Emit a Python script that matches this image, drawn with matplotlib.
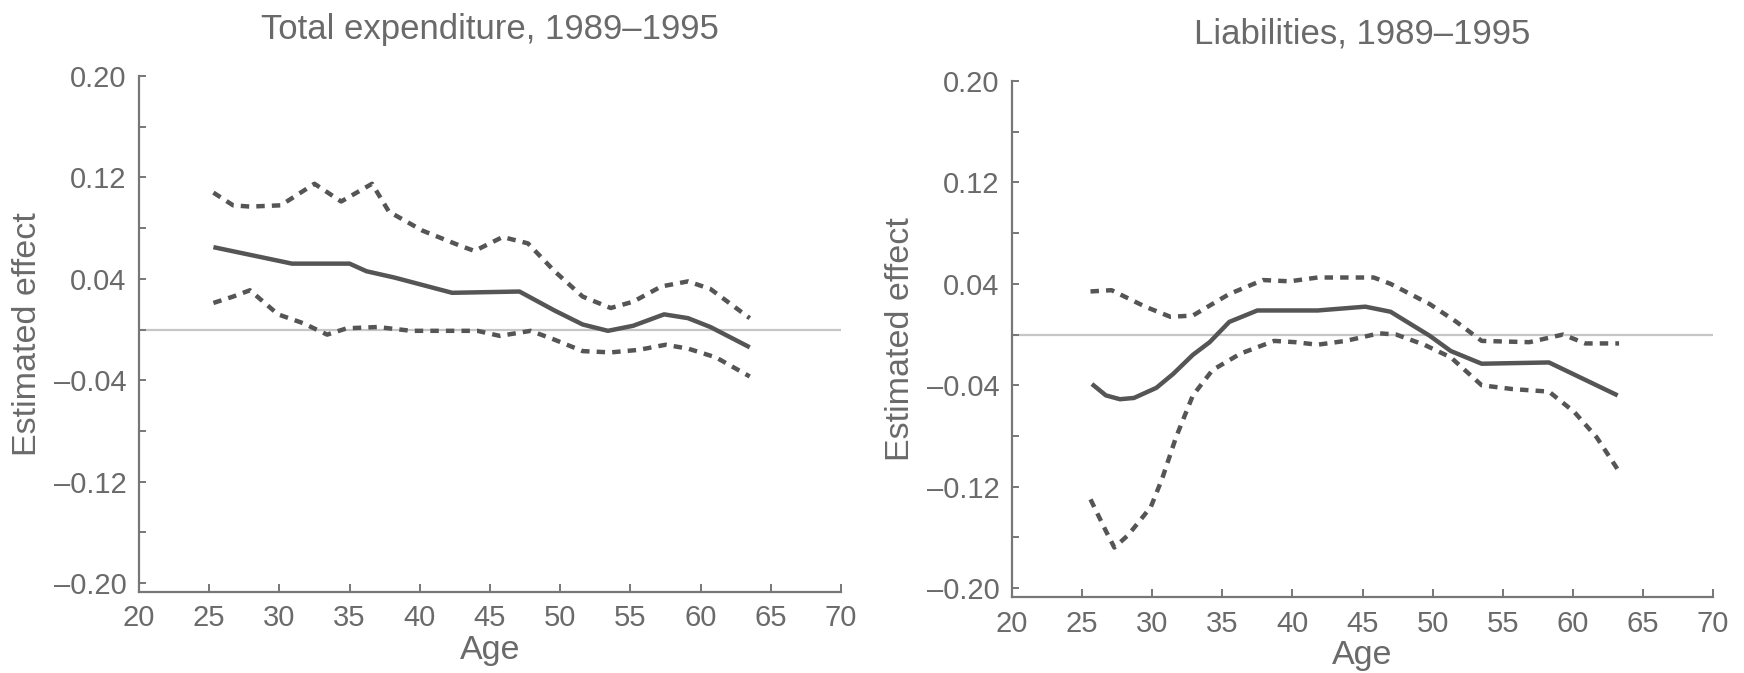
import matplotlib
matplotlib.use("Agg")
import matplotlib.pyplot as plt
import numpy as np

plt.rcParams['font.family'] = ['Liberation Sans', 'DejaVu Sans']

# ---------------- data ----------------
titles = ["Total expenditure, 1989\u20131995", "Liabilities, 1989\u20131995"]
ylabel = "Estimated effect"
xlabel = "Age"
xticks = [20, 25, 30, 35, 40, 45, 50, 55, 60, 65, 70]
yticks = [-0.20, -0.16, -0.12, -0.08, -0.04, 0.0, 0.04, 0.08, 0.12, 0.16, 0.20]
ytick_labels = ["\u20130.20", "", "\u20130.12", "", "\u20130.04", "", "0.04", "", "0.12", "", "0.20"]

# Left panel: total expenditure
exp_est_age = [25.3, 30.9, 35.0, 36.2, 38.2, 42.3, 47.1, 49.6, 51.6, 53.4, 55.2, 57.4, 59.1, 60.7, 63.5]
exp_est = [0.065, 0.052, 0.052, 0.046, 0.041, 0.029, 0.030, 0.015, 0.004, -0.001, 0.003, 0.012, 0.009, 0.002, -0.014]

exp_up_age = [25.3, 26.7, 27.9, 30.1, 32.5, 34.4, 36.6, 37.8, 40.2, 42.9, 43.9, 45.9, 47.7, 49.6, 51.6, 53.6, 55.2, 57.2, 59.1, 60.7, 63.5]
exp_up = [0.108, 0.098, 0.097, 0.098, 0.115, 0.101, 0.115, 0.093, 0.078, 0.066, 0.062, 0.073, 0.068, 0.046, 0.026, 0.017, 0.022, 0.034, 0.038, 0.032, 0.009]

exp_lo_age = [25.3, 26.7, 27.9, 29.9, 31.7, 33.4, 34.8, 37.0, 39.4, 41.7, 44.1, 45.7, 47.9, 49.6, 51.6, 53.6, 55.6, 57.5, 59.1, 61.1, 63.5]
exp_lo = [0.021, 0.026, 0.031, 0.012, 0.005, -0.004, 0.001, 0.002, -0.001, -0.001, -0.001, -0.005, -0.001, -0.008, -0.017, -0.018, -0.016, -0.012, -0.015, -0.022, -0.037]

# Right panel: liabilities
lia_est_age = [25.7, 26.7, 27.7, 28.7, 30.3, 31.5, 32.9, 34.1, 35.5, 37.5, 41.8, 45.2, 47.0, 49.8, 51.3, 53.5, 58.3, 63.2]
lia_est = [-0.039, -0.048, -0.051, -0.050, -0.042, -0.031, -0.016, -0.006, 0.010, 0.019, 0.019, 0.022, 0.018, -0.001, -0.013, -0.023, -0.022, -0.048]

lia_up_age = [25.6, 27.1, 29.5, 31.3, 32.9, 35.5, 37.9, 39.8, 41.8, 45.8, 47.0, 49.8, 51.7, 53.5, 56.9, 59.3, 60.9, 63.3]
lia_up = [0.034, 0.035, 0.022, 0.014, 0.015, 0.032, 0.043, 0.042, 0.045, 0.045, 0.040, 0.024, 0.010, -0.005, -0.006, 0.0, -0.007, -0.007]

lia_lo_age = [25.6, 26.7, 27.3, 28.3, 29.9, 30.7, 31.7, 32.9, 34.3, 36.3, 38.7, 40.2, 41.8, 43.8, 46.2, 47.4, 49.4, 51.3, 53.5, 55.7, 58.3, 60.1, 61.7, 63.3]
lia_lo = [-0.130, -0.155, -0.168, -0.158, -0.136, -0.114, -0.081, -0.048, -0.028, -0.015, -0.005, -0.006, -0.008, -0.005, 0.001, 0.0, -0.008, -0.018, -0.040, -0.043, -0.045, -0.061, -0.081, -0.108]

# ---------------- style ----------------
W, H = 1744, 673
fig = plt.figure(figsize=(W / 100, H / 100), dpi=100)
fig.patch.set_facecolor("white")

text_c = "#6a6a6a"
line_c = "#555555"
spine_c = "#777777"
zero_c = "#c6c6c6"

axes_px = [(139, 841, 76, 592), (1012, 1713, 81, 597)]
panels = [
    (exp_est_age, exp_est, exp_up_age, exp_up, exp_lo_age, exp_lo),
    (lia_est_age, lia_est, lia_up_age, lia_up, lia_lo_age, lia_lo),
]

for i, (px, data) in enumerate(zip(axes_px, panels)):
    l, r, t, b = px
    ax = fig.add_axes([l / W, 1 - b / H, (r - l) / W, (b - t) / H])
    ea, ev, ua, uv, la, lv = data
    ax.axhline(0, color=zero_c, lw=1.6, zorder=1)
    ax.plot(ea, ev, color=line_c, lw=3.2, solid_capstyle='butt', zorder=3)
    ax.plot(ua, uv, color=line_c, lw=3.2, linestyle=(0, (1.9, 1.6)), dash_capstyle='butt', zorder=3)
    ax.plot(la, lv, color=line_c, lw=3.2, linestyle=(0, (1.9, 1.6)), dash_capstyle='butt', zorder=3)

    ax.set_xlim(20, 70)
    ax.set_ylim(-0.207, 0.20)
    ax.set_xticks(xticks)
    ax.set_xticklabels([str(x) for x in xticks])
    ax.set_yticks(yticks)
    ax.set_yticklabels(ytick_labels)

    for s in ["top", "right"]:
        ax.spines[s].set_visible(False)
    for s in ["left", "bottom"]:
        ax.spines[s].set_color(spine_c)
        ax.spines[s].set_linewidth(1.6)

    ax.tick_params(axis='both', direction='in', colors=spine_c, labelcolor=text_c,
                   labelsize=21, width=1.4)
    ax.tick_params(axis='y', length=5, pad=9)
    ax.tick_params(axis='x', length=6, pad=9)

    ax.set_title(titles[i], fontsize=25, color=text_c, pad=27)
    ax.set_ylabel(ylabel, fontsize=24.5, color=text_c, labelpad=8)
    ax.set_xlabel(xlabel, fontsize=24.5, color=text_c, labelpad=2)

fig.savefig("out.png", dpi=100, facecolor="white")
